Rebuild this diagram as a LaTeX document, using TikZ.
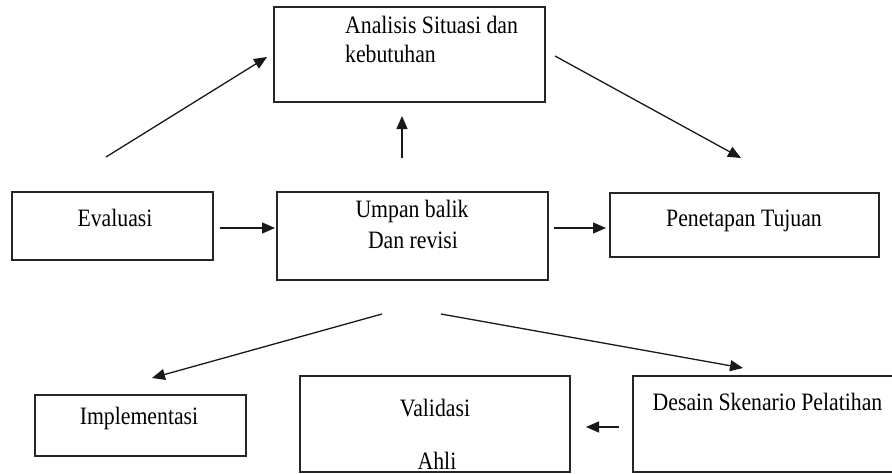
\documentclass[tikz,border=0pt]{standalone}
\usepackage{fontspec}
\setmainfont[FakeStretch=0.87]{Liberation Serif}
\usetikzlibrary{arrows.meta}
\begin{document}
\begin{tikzpicture}[x=1pt,y=-1pt,
  box/.style={draw=black!85, line width=1.4pt, rectangle, inner sep=0pt},
  lbl/.style={inner sep=0pt, font=\fontsize{25}{30}\selectfont, text=black},
  arr/.style={line width=1.3pt, draw=black!90, -{Triangle[length=13pt,width=11pt]}}]
\useasboundingbox (0,0) rectangle (892,474);
\begin{scope}
\clip (0,0) rectangle (892,474);
% boxes
\node[box, minimum width=271pt, minimum height=95pt] (ana) at (409.5,54.5) {};
\node[box, minimum width=201pt, minimum height=68pt] (eva) at (112.5,226) {};
\node[box, minimum width=271pt, minimum height=88pt] (ump) at (412.5,236) {};
\node[box, minimum width=269pt, minimum height=64pt] (pen) at (744.5,225) {};
\node[box, minimum width=211pt, minimum height=61pt] (imp) at (140.5,425.5) {};
\node[box, minimum width=270pt, minimum height=96pt] (val) at (435,424) {};
\node[box, minimum width=270pt, minimum height=96pt] (des) at (768,424) {};
\end{scope}
% texts
\node[lbl, anchor=base west] (ana1) at (345,33) {Analisis Situasi dan};
\node[lbl, anchor=base west] (ana2) at (345,62) {kebutuhan};
\node[lbl, anchor=base] (eval) at (115,226) {Evaluasi};
\node[lbl, anchor=base] (ump1) at (412,217) {Umpan balik};
\node[lbl, anchor=base] (ump2) at (413,248) {Dan revisi};
\node[lbl, anchor=base] (pent) at (744,226) {Penetapan Tujuan};
\node[lbl, anchor=base] (impt) at (139,424) {Implementasi};
\node[lbl, anchor=base] (val1) at (435,416) {Validasi};
\node[lbl, anchor=base] (val2) at (437,469) {Ahli};
\node[lbl, anchor=base] (dest) at (767.5,410) {Desain Skenario Pelatihan};
% connector end points
\coordinate (a1s) at (106,157); \coordinate (a1e) at (267,57);
\coordinate (a2s) at (402,158); \coordinate (a2e) at (402,116);
\coordinate (a3s) at (555,56);  \coordinate (a3e) at (741,158);
\coordinate (a4s) at (220,228); \coordinate (a4e) at (275,228);
\coordinate (a5s) at (554,228); \coordinate (a5e) at (606,228);
\coordinate (a6s) at (382,314); \coordinate (a6e) at (152,378);
\coordinate (a7s) at (441,314); \coordinate (a7e) at (743,368);
\coordinate (a8s) at (619,427); \coordinate (a8e) at (586,427);
\draw[arr] (a1s) -- (a1e);
\draw[arr] (a2s) -- (a2e);
\draw[arr] (a3s) -- (a3e);
\draw[arr] (a4s) -- (a4e);
\draw[arr] (a5s) -- (a5e);
\draw[arr] (a6s) -- (a6e);
\draw[arr] (a7s) -- (a7e);
\draw[arr] (a8s) -- (a8e);
\end{tikzpicture}
\end{document}
